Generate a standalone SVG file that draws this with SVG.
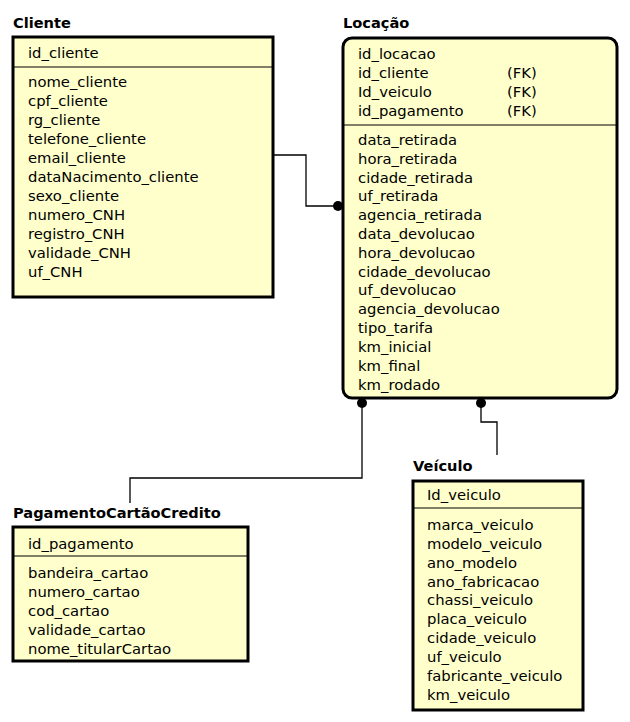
<svg xmlns="http://www.w3.org/2000/svg" width="630" height="722" viewBox="0 0 630 722">
<style>
.t{font-family:"DejaVu Sans","Liberation Sans",sans-serif;font-size:14.6px;font-weight:bold;fill:#000}
.a{font-family:"DejaVu Sans","Liberation Sans",sans-serif;font-size:14.8px;fill:#000}
.box{fill:#FFFFCC;stroke:#000;stroke-width:3}
.sep{stroke:#000;stroke-width:1.2}
.c{fill:none;stroke:#000;stroke-width:1.3}
</style>
<rect width="630" height="722" fill="#fff"/>
<g id="connectors">
<polyline class="c" points="273,155 306,155 306,206 338,206"/>
<polyline class="c" points="362,403 362,478 130,478 130,503"/>
<polyline class="c" points="481,403 481,422 497,422 497,455"/>
<circle cx="338" cy="206" r="5"/>
<circle cx="362" cy="403" r="5"/>
<circle cx="481" cy="403" r="5"/>
</g>
<g id="cliente">
<text class="t" x="13" y="28">Cliente</text>
<rect class="box" x="13" y="37" width="260" height="260"/>
<line class="sep" x1="13" y1="67" x2="273" y2="67"/>
<text class="a" x="28" y="58">id_cliente</text>
<text class="a" x="28" y="87">nome_cliente</text>
<text class="a" x="28" y="106">cpf_cliente</text>
<text class="a" x="28" y="125">rg_cliente</text>
<text class="a" x="28" y="144">telefone_cliente</text>
<text class="a" x="28" y="163">email_cliente</text>
<text class="a" x="28" y="182">dataNacimento_cliente</text>
<text class="a" x="28" y="201">sexo_cliente</text>
<text class="a" x="28" y="220">numero_CNH</text>
<text class="a" x="28" y="239">registro_CNH</text>
<text class="a" x="28" y="258">validade_CNH</text>
<text class="a" x="28" y="277">uf_CNH</text>
</g>
<g id="locacao">
<text class="t" x="343" y="28">Locação</text>
<rect class="box" x="343" y="38" width="274" height="360" rx="9" ry="9"/>
<line class="sep" x1="343" y1="125" x2="617" y2="125"/>
<text class="a" x="358" y="59">id_locacao</text>
<text class="a" x="358" y="78">id_cliente</text>
<text class="a" x="358" y="97">Id_veiculo</text>
<text class="a" x="358" y="116">id_pagamento</text>
<text class="a" x="507" y="78">(FK)</text>
<text class="a" x="507" y="97">(FK)</text>
<text class="a" x="507" y="116">(FK)</text>
<text class="a" x="358" y="145">data_retirada</text>
<text class="a" x="358" y="164">hora_retirada</text>
<text class="a" x="358" y="183">cidade_retirada</text>
<text class="a" x="358" y="201">uf_retirada</text>
<text class="a" x="358" y="220">agencia_retirada</text>
<text class="a" x="358" y="239">data_devolucao</text>
<text class="a" x="358" y="258">hora_devolucao</text>
<text class="a" x="358" y="277">cidade_devolucao</text>
<text class="a" x="358" y="295">uf_devolucao</text>
<text class="a" x="358" y="314">agencia_devolucao</text>
<text class="a" x="358" y="333">tipo_tarifa</text>
<text class="a" x="358" y="352">km_inicial</text>
<text class="a" x="358" y="371">km_final</text>
<text class="a" x="358" y="390">km_rodado</text>
</g>
<g id="veiculo">
<text class="t" x="413" y="471">Veículo</text>
<rect class="box" x="413" y="481" width="170" height="229"/>
<line class="sep" x1="413" y1="508" x2="583" y2="508"/>
<text class="a" x="427" y="500">Id_veiculo</text>
<text class="a" x="427" y="530">marca_veiculo</text>
<text class="a" x="427" y="549">modelo_veiculo</text>
<text class="a" x="427" y="568">ano_modelo</text>
<text class="a" x="427" y="587">ano_fabricacao</text>
<text class="a" x="427" y="605">chassi_veiculo</text>
<text class="a" x="427" y="624">placa_veiculo</text>
<text class="a" x="427" y="643">cidade_veiculo</text>
<text class="a" x="427" y="662">uf_veiculo</text>
<text class="a" x="427" y="681">fabricante_veiculo</text>
<text class="a" x="427" y="700">km_veiculo</text>
</g>
<g id="pagamento">
<text class="t" x="13" y="518">PagamentoCartãoCredito</text>
<rect class="box" x="13" y="527" width="235" height="134"/>
<line class="sep" x1="13" y1="556" x2="248" y2="556"/>
<text class="a" x="28" y="549">id_pagamento</text>
<text class="a" x="28" y="578">bandeira_cartao</text>
<text class="a" x="28" y="597">numero_cartao</text>
<text class="a" x="28" y="616">cod_cartao</text>
<text class="a" x="28" y="635">validade_cartao</text>
<text class="a" x="28" y="654">nome_titularCartao</text>
</g>
</svg>
